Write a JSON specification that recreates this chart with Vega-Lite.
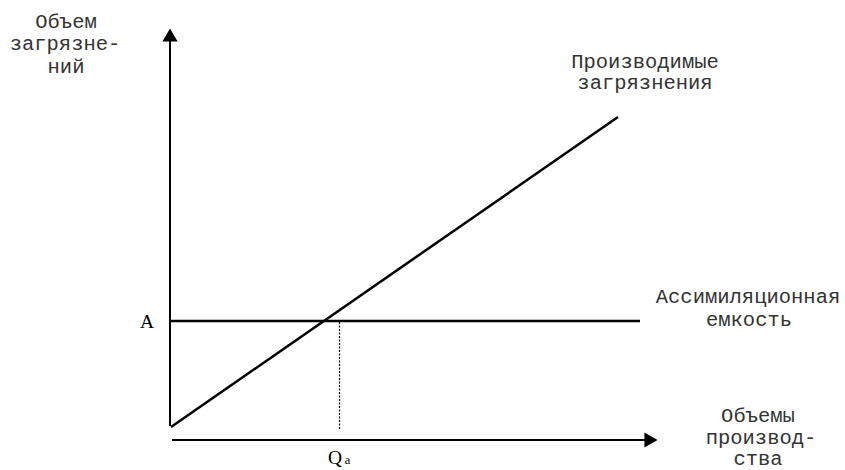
{
  "$schema": "https://vega.github.io/schema/vega-lite/v6.json",
  "width": 845,
  "height": 470,
  "autosize": {"type": "fit", "contains": "padding"},
  "padding": 0,
  "background": "white",
  "config": {"view": {"stroke": null}},
  "datasets": {
    "solid": [
      {"name": "yaxis", "x": 0, "y": 1.4, "x2": 0, "y2": 40, "w": 2},
      {"name": "xaxis", "x": 0.2, "y": 0, "x2": 47.5, "y2": 0, "w": 2},
      {"name": "production", "x": 0.1, "y": 1.3, "x2": 44.8, "y2": 32.3, "w": 2.5},
      {"name": "capacity", "x": 0.1, "y": 11.9, "x2": 47, "y2": 11.9, "w": 2.5}
    ],
    "dotted": [
      {"x": 16.95, "y": 1.1, "x2": 16.95, "y2": 11.9}
    ],
    "arrows": [
      {"x": 0, "y": 40.5, "shape": "triangle-up"},
      {"x": 48.1, "y": 0, "shape": "triangle-right"}
    ],
    "mono": [
      {"x": -10.4, "y": 41.2, "t": "Объем"},
      {"x": -10.5, "y": 39.0, "t": "загрязне-"},
      {"x": -10.4, "y": 36.7, "t": "ний"},
      {"x": 47.5, "y": 37.2, "t": "Производимые"},
      {"x": 47.5, "y": 35.1, "t": "загрязнения"},
      {"x": 57.8, "y": 13.7, "t": "Ассимиляционная"},
      {"x": 57.9, "y": 11.4, "t": "емкость"},
      {"x": 58.8, "y": 1.8, "t": "Объемы"},
      {"x": 59.1, "y": -0.4, "t": "производ-"},
      {"x": 58.8, "y": -2.5, "t": "ства"}
    ],
    "serif": [
      {"x": -2.3, "y": 11.2, "t": "A"},
      {"x": 16.5, "y": -2.4, "t": "Q"}
    ],
    "sub": [
      {"x": 17.75, "y": -2.4, "t": "a"}
    ]
  },
  "encoding": {
    "x": {"field": "x", "type": "quantitative", "scale": {"domain": [-17, 67.5], "nice": false, "zero": false}, "axis": null},
    "y": {"field": "y", "type": "quantitative", "scale": {"domain": [-3, 44], "nice": false, "zero": false}, "axis": null}
  },
  "layer": [
    {
      "data": {"name": "solid"},
      "mark": {"type": "rule", "color": "black"},
      "encoding": {
        "x2": {"field": "x2"},
        "y2": {"field": "y2"},
        "strokeWidth": {"field": "w", "type": "quantitative", "scale": null}
      }
    },
    {
      "data": {"name": "dotted"},
      "mark": {"type": "rule", "color": "black", "strokeWidth": 1.2, "strokeDash": [2, 1.5]},
      "encoding": {
        "x2": {"field": "x2"},
        "y2": {"field": "y2"}
      }
    },
    {
      "data": {"name": "arrows"},
      "mark": {"type": "point", "filled": true, "color": "black", "size": 230, "opacity": 1},
      "encoding": {
        "shape": {"field": "shape", "type": "nominal", "scale": null}
      }
    },
    {
      "data": {"name": "mono"},
      "mark": {"type": "text", "font": "'Liberation Mono', 'DejaVu Sans Mono', monospace", "fontSize": 20.5, "align": "center", "baseline": "alphabetic", "color": "#333"},
      "encoding": {"text": {"field": "t"}}
    },
    {
      "data": {"name": "serif"},
      "mark": {"type": "text", "font": "'Liberation Serif', 'DejaVu Serif', serif", "fontSize": 19.5, "align": "center", "baseline": "alphabetic", "color": "black"},
      "encoding": {"text": {"field": "t"}}
    },
    {
      "data": {"name": "sub"},
      "mark": {"type": "text", "font": "'Liberation Serif', 'DejaVu Serif', serif", "fontSize": 12.5, "align": "center", "baseline": "alphabetic", "color": "black"},
      "encoding": {"text": {"field": "t"}}
    }
  ]
}
